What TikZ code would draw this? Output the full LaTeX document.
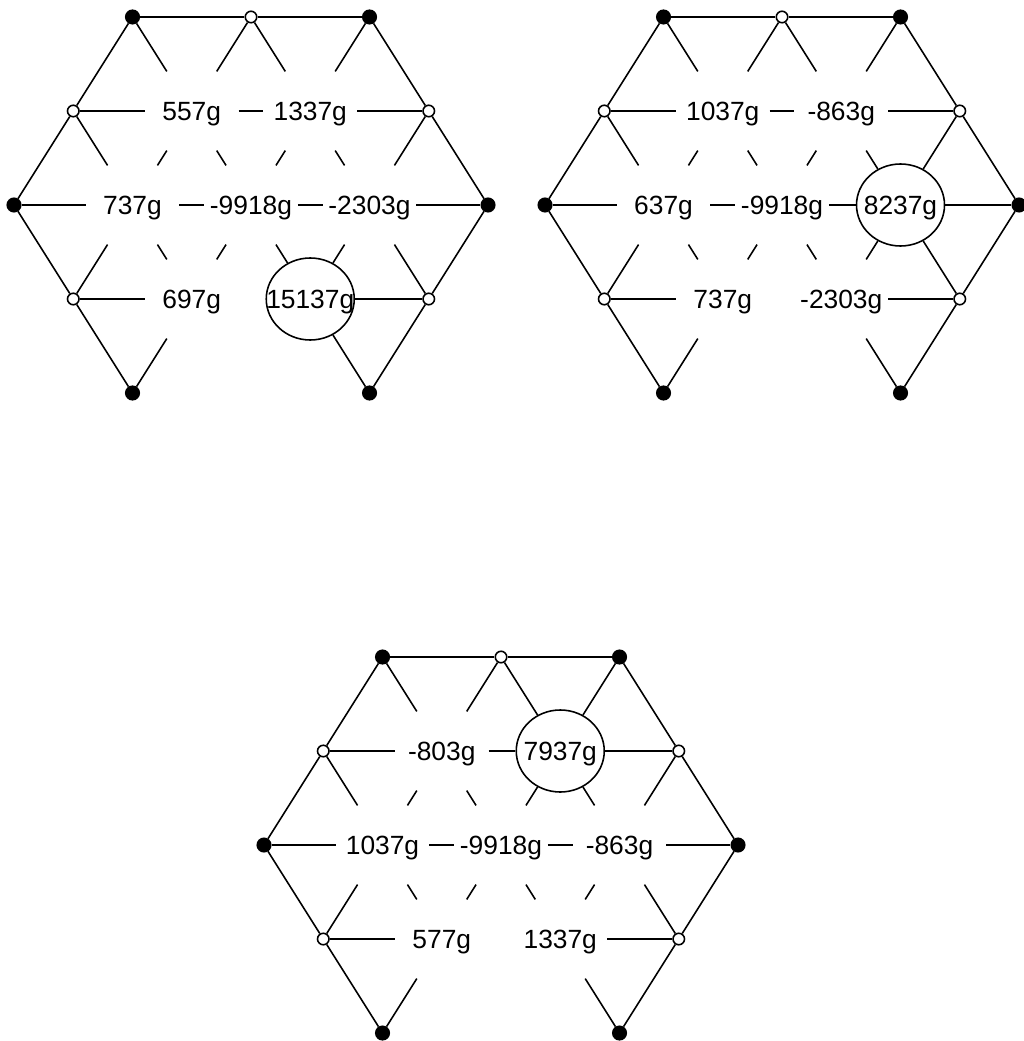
\documentclass[tikz,border=0pt]{standalone}
\usepackage{fontspec}
\setmainfont{Liberation Sans}
\usetikzlibrary{shapes.geometric}
\tikzset{
  dot/.style={draw, circle, fill=black, inner sep=0pt, minimum size=2.7mm},
  hole/.style={draw, circle, fill=white, inner sep=0pt, minimum size=2.3mm},
  spot/.style={circle, inner sep=0pt, minimum size=18.4mm},
  ring/.style={draw, ellipse, inner sep=0pt, minimum width=17.6mm, minimum height=16.4mm},
  weight/.style={inner sep=0pt, text depth=0pt, font=\fontsize{15}{17}\selectfont}
}
\newcommand{\hexboard}{%
  \foreach \n/\x/\y in {t1/-118.5/0, t3/118.5/0, l2/-237/188, r2/237/188, b1/-118.5/376, b3/118.5/376}
    \node[dot] (\n) at (\x,\y) {};
  \foreach \n/\x/\y in {t2/0/0, l1/-177.75/94, r1/177.75/94, l3/-177.75/282, r3/177.75/282}
    \node[hole] (\n) at (\x,\y) {};
  \foreach \n/\x/\y in {a/-59.25/94, b/59.25/94, c/-118.5/188, d/0/188, e/118.5/188, f/-59.25/282, g/59.25/282}
    \node[spot, pick \n/.try] (\n) at (\x,\y) {};
  \foreach \u/\v in {t1/t2, t2/t3, t1/l1, l1/l2, l2/l3, l3/b1, t3/r1, r1/r2, r2/r3, r3/b3,
                     t1/a, t2/a, t2/b, t3/b, l1/a, b/r1, l1/c, r1/e, l2/c, e/r2,
                     l3/c, r3/e, l3/f, g/r3, b1/f, b3/g,
                     a/b, a/c, a/d, b/d, b/e, c/d, d/e, c/f, d/f, d/g, e/g}
    \draw (\u) -- (\v);
}

\begin{document}
\begin{tikzpicture}[x=0.2mm, y=-0.2mm, line width=0.9pt]
  \useasboundingbox (0,0) rectangle (1023,1041);

  \begin{scope}[shift={(251,17)}, name prefix=left-, pick g/.style={ring}]
    \hexboard
    \foreach \n/\w in {a/557g, b/1337g, c/737g, d/-9918g, e/-2303g, f/697g, g/15137g}
      \node[weight] (w\n) at (\n) {\w};
  \end{scope}

  \begin{scope}[shift={(782,17)}, name prefix=right-, pick e/.style={ring}]
    \hexboard
    \foreach \n/\w in {a/1037g, b/-863g, c/637g, d/-9918g, e/8237g, f/737g, g/-2303g}
      \node[weight] (w\n) at (\n) {\w};
  \end{scope}

  \begin{scope}[shift={(501,657)}, name prefix=low-, pick b/.style={ring}]
    \hexboard
    \foreach \n/\w in {a/-803g, b/7937g, c/1037g, d/-9918g, e/-863g, f/577g, g/1337g}
      \node[weight] (w\n) at (\n) {\w};
  \end{scope}
\end{tikzpicture}
\end{document}
